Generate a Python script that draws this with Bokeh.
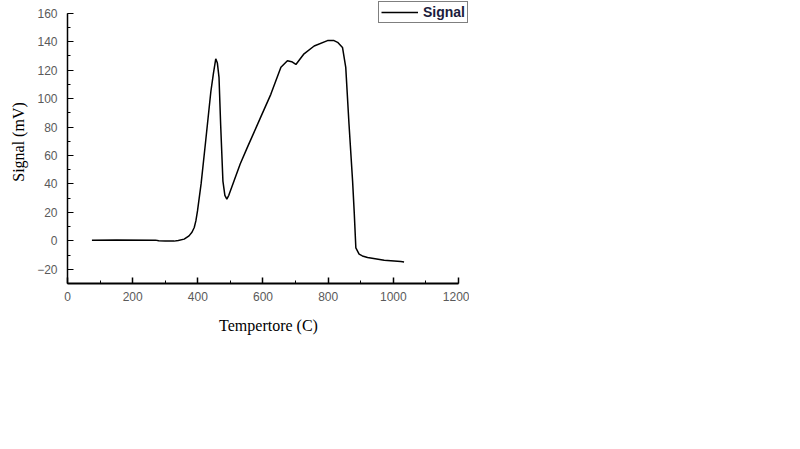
from bokeh.plotting import figure
from bokeh.models import Range1d, SingleIntervalTicker, Legend, LegendItem
from bokeh.embed import file_html
from bokeh.resources import INLINE

temperature = [75, 150, 270, 280, 300, 327, 340, 358, 373, 382, 389, 394, 399, 410, 424,
               440, 448, 455, 460, 465, 470, 477, 483, 489, 495, 511, 530, 552, 593, 624,
               655, 675, 688, 701, 726, 757, 798, 818, 829, 844, 854, 864, 875, 880, 885,
               895, 905, 921, 972, 1023, 1033]
signal = [0.5, 0.6, 0.5, 0.0, -0.2, -0.2, 0.3, 1.2, 3.5, 6, 9.4, 14, 21, 40, 70,
          105, 118, 128, 125, 115, 82, 42, 32, 29.4, 32, 42, 54, 65.7, 87, 103,
          122, 126.7, 126, 124, 131.5, 137, 140.8, 140.8, 139.6, 136, 122, 82, 42, 20, -5,
          -9.4, -10.6, -11.7, -13.6, -14.6, -14.8]
series_name = "Signal"
x_title = "Tempertore (C)"
y_title = "Signal (mV)"
x_bounds = (0, 1200)
y_bounds = (-30, 160)

# the frame is a little larger than the axes so the legend can sit above/right of them
p = figure(width=469, height=340, output_backend="svg", toolbar_location=None,
           x_range=Range1d(0, 1233.8), y_range=Range1d(-30, 169.0),
           min_border_left=67, min_border_right=0, min_border_top=0, min_border_bottom=57)
p.outline_line_color = None
p.background_fill_color = "white"
p.border_fill_color = "white"
p.xgrid.visible = False
p.ygrid.visible = False

r = p.line(temperature, signal, line_color="black", line_width=1.5)

p.xaxis.ticker = SingleIntervalTicker(interval=200, num_minor_ticks=2)
p.yaxis.ticker = SingleIntervalTicker(interval=20, num_minor_ticks=2)
p.xaxis.bounds = x_bounds
p.yaxis.bounds = y_bounds
for ax in (p.xaxis[0], p.yaxis[0]):
    ax.major_tick_in = 6
    ax.major_tick_out = 0
    ax.minor_tick_in = 3
    ax.minor_tick_out = 0
    ax.axis_line_color = "black"
    ax.major_tick_line_color = "black"
    ax.minor_tick_line_color = "black"
    ax.major_label_text_font = "Liberation Sans"
    ax.major_label_text_font_size = "12px"
    ax.major_label_text_color = "#5a5a5a"
    ax.axis_label_text_font = "Liberation Serif"
    ax.axis_label_text_font_size = "16px"
    ax.axis_label_text_font_style = "normal"
    ax.axis_label_text_color = "black"

p.xaxis.axis_line_width = 2
p.xaxis.major_tick_line_width = 1.5
p.yaxis.axis_line_width = 1.5
p.xaxis.major_label_standoff = 8
p.yaxis.major_label_standoff = 10
p.xaxis.axis_label = x_title
p.yaxis.axis_label = y_title
p.xaxis.axis_label_standoff = 13
p.yaxis.axis_label_standoff = 7

legend = Legend(items=[LegendItem(label=series_name, renderers=[r])],
                location=(311, 260), orientation="vertical",
                padding=2, margin=0, spacing=0, label_standoff=5,
                glyph_width=37, glyph_height=14, label_height=14,
                border_line_color="black", border_line_width=1.5,
                background_fill_color="white", background_fill_alpha=1,
                label_text_font="Liberation Sans", label_text_font_size="14px",
                label_text_font_style="bold", label_text_color="#1c1c3c")
p.add_layout(legend, "center")

open("out.html", "w").write(file_html(p, INLINE))
